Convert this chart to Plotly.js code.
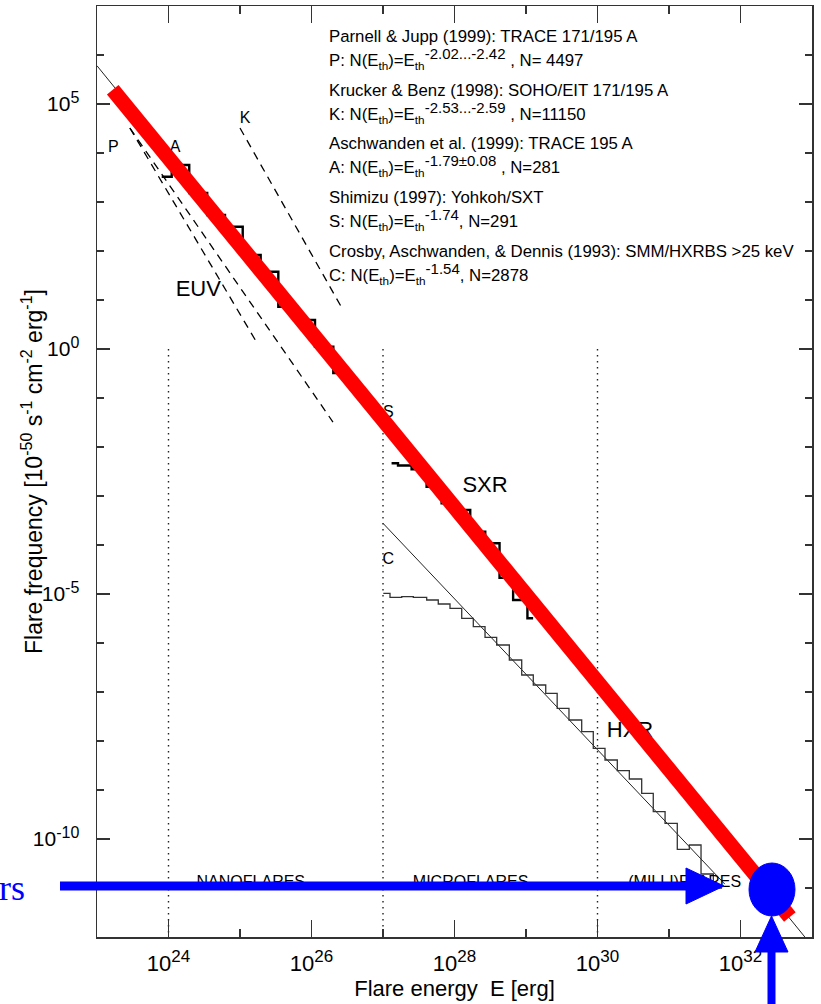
<!DOCTYPE html>
<html><head><meta charset="utf-8">
<script src="https://cdn.plot.ly/plotly-3.0.1.min.js"></script>
<style>html,body{margin:0;padding:0;background:#fff;} #chart{width:821px;height:1004px;}</style>
</head><body><div id="chart"></div>
<script>
// ---- values (log10 of energy [erg] and of frequency) ----
// EUV histogram (Aschwanden et al. 1999, TRACE 195 A)
const euvEdgesLogE = [23.905, 24.045, 24.290, 24.541, 24.790, 25.038, 25.289, 25.536, 25.797, 26.049, 26.305, 26.552];
const euvLogN      = [3.516, 3.755, 3.184, 2.735, 2.496, 1.918, 1.578, 0.863, 0.592, 0.047, -0.49];
// SXR histogram (Shimizu 1997, Yohkoh/SXT)
const sxrEdgesLogE = [27.12, 27.21, 27.40, 27.61, 27.82, 28.02, 28.22, 28.43, 28.63, 28.82, 29.02, 29.10];
const sxrLogN      = [-2.333, -2.378, -2.455, -2.81, -3.149, -3.286, -3.729, -3.965, -4.67, -5.122, -5.496];
// HXR histogram (Crosby et al. 1993, SMM/HXRBS)
const hxrEdgesLogE = [27.004, 27.098, 27.262, 27.424, 27.611, 27.773, 27.937, 28.101, 28.263, 28.427,
                      28.590, 28.767, 28.940, 29.102, 29.276, 29.436, 29.601, 29.779, 29.941, 30.105,
                      30.277, 30.445, 30.618, 30.780, 30.945, 31.116, 31.284, 31.448, 31.620, 31.741];
const hxrLogN      = [-4.986, -5.067, -5.055, -5.067, -5.122, -5.204, -5.292, -5.496, -5.667, -5.884,
                      -6.041, -6.347, -6.653, -6.857, -7.027, -7.333, -7.571, -7.810, -8.149, -8.388,
                      -8.606, -8.776, -9.067, -9.443, -9.680, -10.210, -10.122, -10.714, -11.0];
// power-law fit lines
const fitALogE = [23.0, 32.9];   const fitALogN = [5.78, -12.0];
const fitCLogE = [27.0, 31.78];  const fitCLogN = [-3.557, -10.92];
const fitP1LogE = [23.46, 25.24]; const fitP1LogN = [4.51, 0.12];
const fitP2LogE = [23.46, 26.30]; const fitP2LogN = [4.51, -1.49];
const fitKLogE = [25.0, 26.44];  const fitKLogN = [4.51, 0.80];
// overall red power law
const redLogE = [23.22, 32.69];  const redLogN = [5.29, -11.59];
// regime boundaries (dotted)
const boundaryLogE = [24, 27, 30];
const boundaryLogN = [0, -12];
// curve labels
const smallLabels = ['P', 'A', 'K', 'S', 'C'];
const smallLabelLogE = [23.228, 24.091, 25.07, 27.074, 27.074];
const smallLabelLogN = [4.096, 4.096, 4.688, -1.312, -4.306];
const bigLabels = ['EUV', 'SXR', 'HXR'];
const bigLabelLogE = [24.417, 28.427, 30.455];
const bigLabelLogN = [1.204, -2.81, -7.81];
const regimeLabels = ['NANOFLARES', 'MICROFLARES', '(MILLI)FLARES'];
const regimeLabelLogE = [25.151, 28.225, 31.22];
const regimeLabelLogN = [-10.888, -10.888, -10.888];
// reference list
const refTitles = ['Parnell & Jupp (1999): TRACE 171/195 A',
                   'Krucker & Benz (1998): SOHO/EIT 171/195 A',
                   'Aschwanden et al. (1999): TRACE 195 A',
                   'Shimizu (1997): Yohkoh/SXT',
                   'Crosby, Aschwanden, & Dennis (1993): SMM/HXRBS >25 keV'];
const refIds = ['P', 'K', 'A', 'S', 'C'];
const refExponents = ['-2.02...-2.42', '-2.53...-2.59', '-1.79\u00b10.08', '-1.74', '-1.54'];
const refCounts = [' , N= 4497', ' , N=11150', ' , N=281', ', N=291', ', N=2878'];
// ticks
const xTickLogE = [24, 26, 28, 30, 32];
const xTickExp = ['24', '26', '28', '30', '32'];
const xMinorLogE = [25, 27, 29, 31];
const yTickLogN = [-10, -5, 0, 5];
const yTickExp = ['-10', '-5', '0', '5'];
const yMinorLogN = [-11, -9, -8, -7, -6, -4, -3, -2, -1, 1, 2, 3, 4, 6];

// ---- helpers ----
const lin = a => a.map(v => Math.pow(10, v));
const FONT = 'Liberation Sans, Arial, Helvetica, sans-serif';
function stairs(edges, levels) {
  return { x: lin(edges), y: lin(levels.concat([levels[levels.length - 1]])) };
}
const sup = (t, size) => '<sup><span style="font-size:' + size + 'px">' + t + '</span></sup>';
const pow10 = (exps, size) => exps.map(e => '10' + sup(e, size));
// pixel geometry of plot area (for paper-referenced decorations)
const W = 821, H = 1004, L = 97, R = 9, T = 6, B = 67;
const PW = W - L - R, PH = H - T - B;
const px = x => (x - L) / PW;
const py = y => (H - B - y) / PH;

const traces = [];
boundaryLogE.forEach(e => traces.push({
  x: lin([e, e]), y: lin(boundaryLogN), mode: 'lines',
  line: { color: '#222', width: 1.4, dash: '1.4px,4.6px' }, hoverinfo: 'skip'
}));
[[fitP1LogE, fitP1LogN], [fitP2LogE, fitP2LogN], [fitKLogE, fitKLogN]].forEach(([e, n]) => traces.push({
  x: lin(e), y: lin(n), mode: 'lines', line: { color: '#000', width: 1.3, dash: '8px,6px' }
}));
traces.push({ x: lin(fitALogE), y: lin(fitALogN), mode: 'lines', line: { color: '#222', width: 1 } });
traces.push({ x: lin(fitCLogE), y: lin(fitCLogN), mode: 'lines', line: { color: '#222', width: 1 } });
const hx = stairs(hxrEdgesLogE, hxrLogN);
traces.push({ x: hx.x, y: hx.y, mode: 'lines', line: { color: '#333', width: 1.3, shape: 'hv' } });
const ex = stairs(euvEdgesLogE, euvLogN);
traces.push({ x: ex.x, y: ex.y, mode: 'lines', line: { color: '#000', width: 2.4, shape: 'hv' } });
const sx = stairs(sxrEdgesLogE, sxrLogN);
traces.push({ x: sx.x, y: sx.y, mode: 'lines', line: { color: '#000', width: 2.4, shape: 'hv' } });
traces.push({ x: lin(smallLabelLogE), y: lin(smallLabelLogN), mode: 'text', text: smallLabels,
  textfont: { family: FONT, size: 16, color: '#000' }, textposition: 'middle center', cliponaxis: false });
traces.push({ x: lin(bigLabelLogE), y: lin(bigLabelLogN), mode: 'text', text: bigLabels,
  textfont: { family: FONT, size: 22, color: '#000' }, textposition: 'middle center', cliponaxis: false });
traces.push({ x: lin(regimeLabelLogE), y: lin(regimeLabelLogN), mode: 'text', text: regimeLabels,
  textfont: { family: FONT, size: 16, color: '#000' }, textposition: 'middle center', cliponaxis: false });
traces.push({ x: lin(redLogE), y: lin(redLogN), mode: 'lines', line: { color: '#ff0000', width: 15 } });

const annotations = [];
const titleY = [36.3, 90.3, 143.5, 197.3, 251];
const formulaY = [58.5, 112.2, 165.5, 219.5, 273.7];
refTitles.forEach((t, i) => {
  annotations.push({ xref: 'paper', yref: 'paper', x: px(327), y: py(titleY[i]), xanchor: 'left', yanchor: 'middle',
    text: t, showarrow: false, font: { family: FONT, size: 16.8, color: '#000' } });
  annotations.push({ xref: 'paper', yref: 'paper', x: px(327), y: py(formulaY[i]), xanchor: 'left', yanchor: 'middle',
    text: refIds[i] + ': N(E<sub>th</sub>)=E<sub>th</sub>' + sup(refExponents[i], 15) + refCounts[i],
    showarrow: false, font: { family: FONT, size: 16.8, color: '#000' } });
});
annotations.push({ xref: 'paper', yref: 'paper', x: px(27), y: py(888), xanchor: 'right', yanchor: 'middle',
  text: 'rs', showarrow: false, font: { family: 'Liberation Serif, Times New Roman, serif', size: 36, color: '#0000ff' } });
annotations.push({ xref: 'paper', yref: 'paper', x: px(33), y: py(472), xanchor: 'center', yanchor: 'middle', textangle: -90,
  text: 'Flare frequency [10' + sup('-50', 16) + ' s' + sup('-1', 16) + ' cm' + sup('-2', 16) + ' erg' + sup('-1', 16) + ']',
  showarrow: false, font: { family: FONT, size: 23, color: '#000' } });

const blue = '#0000ff';
const shapes = [
  { type: 'line', xref: 'paper', yref: 'paper', x0: px(60), x1: px(692), y0: py(886), y1: py(886),
    line: { color: blue, width: 9 }, layer: 'above' },
  { type: 'path', xref: 'paper', yref: 'paper', layer: 'above', fillcolor: blue, line: { color: blue, width: 1 },
    path: `M${px(686)},${py(868)} L${px(724)},${py(886)} L${px(686)},${py(904)} Z` },
  { type: 'circle', xref: 'paper', yref: 'paper', x0: px(749), x1: px(795), y0: py(916), y1: py(863),
    fillcolor: blue, line: { color: blue, width: 1 }, layer: 'above' },
  { type: 'line', xref: 'paper', yref: 'paper', x0: px(771.5), x1: px(771.5), y0: py(1004), y1: py(946),
    line: { color: blue, width: 8 }, layer: 'above' },
  { type: 'path', xref: 'paper', yref: 'paper', layer: 'above', fillcolor: blue, line: { color: blue, width: 1 },
    path: `M${px(755)},${py(952)} L${px(771.5)},${py(916)} L${px(788)},${py(952)} Z` }
];

const axisCommon = { type: 'log', showgrid: false, zeroline: false, showline: true, linecolor: '#333', linewidth: 1.5,
  mirror: 'ticks', ticks: 'inside', tickcolor: '#333', tickwidth: 1.3, tickmode: 'array' };
const layout = {
  width: W, height: H, margin: { l: L, r: R, t: T, b: B }, showlegend: false,
  paper_bgcolor: '#fff', plot_bgcolor: '#fff', font: { family: FONT, color: '#000' },
  xaxis: Object.assign({}, axisCommon, {
    range: [23, 33], tickvals: lin(xTickLogE), ticktext: pow10(xTickExp, 17), ticklen: 17,
    tickfont: { size: 22 }, ticklabelstandoff: 6,
    minor: { tickmode: 'array', tickvals: lin(xMinorLogE), ticks: 'inside', ticklen: 8, tickwidth: 1.3, tickcolor: '#333' },
    title: { text: 'Flare energy\u00a0 E [erg]', font: { size: 22 }, standoff: 4 }
  }),
  yaxis: Object.assign({}, axisCommon, {
    range: [-12, 7], tickvals: lin(yTickLogN), ticktext: pow10(yTickExp, 16), ticklen: 13,
    tickfont: { size: 21 }, ticklabelstandoff: 12,
    minor: { tickmode: 'array', tickvals: lin(yMinorLogN), ticks: 'inside', ticklen: 7, tickwidth: 1.3, tickcolor: '#333' }
  }),
  annotations: annotations, shapes: shapes
};
Plotly.newPlot('chart', traces, layout, { displayModeBar: false, staticPlot: true });
</script></body></html>
